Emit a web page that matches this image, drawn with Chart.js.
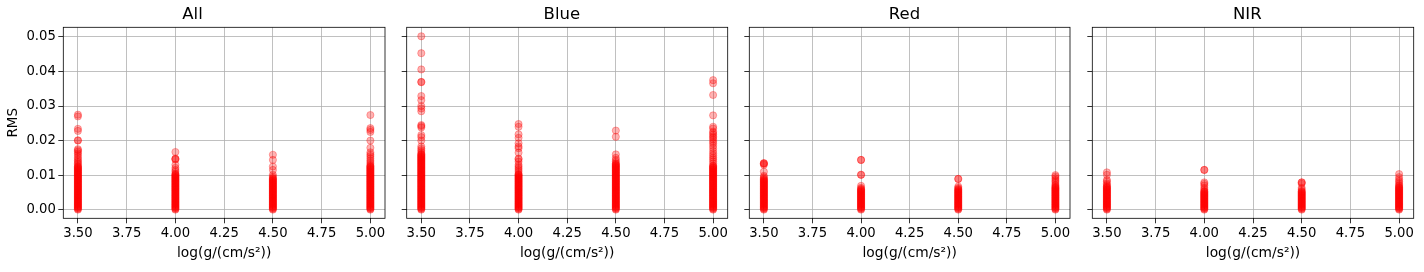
<!DOCTYPE html>
<html>
<head>
<meta charset="utf-8">
<script src="https://cdn.jsdelivr.net/npm/chart.js@4"></script>
<style>
  body { margin: 0; background: #fff; }
  #wrap { position: relative; width: 1424px; height: 272px; }
  canvas { position: absolute; top: 0; }
</style>
</head>
<body>
<div id="wrap">
  <canvas id="c0" width="396" height="272"></canvas>
  <canvas id="c1" width="343" height="272"></canvas>
  <canvas id="c2" width="342" height="272"></canvas>
  <canvas id="c3" width="343" height="272"></canvas>
</div>
<script>
const panelTitles = ['All', 'Blue', 'Red', 'NIR'];
const gravity = [3.5, 4.0, 4.5, 5.0];
const xTicks = [3.5, 3.75, 4.0, 4.25, 4.5, 4.75, 5.0];
const yTicks = [0, 0.01, 0.02, 0.03, 0.04, 0.05];

// RMS values per log(g) (the solid part of each column is packed tight)
const allRms35 = [0,0.0002,0.0004,0.0006,0.0008,0.001,0.0012,0.0014,0.0016,0.0018,0.002,0.0022,0.0024,0.0026,0.0028,0.003,0.0032,0.0034,0.0036,0.0038,0.004,0.0042,0.0044,0.0046,0.0048,0.005,0.0052,0.0054,0.0056,0.0058,0.006,0.0062,0.0064,0.0066,0.0068,0.007,0.0072,0.0074,0.0076,0.0078,0.008,0.0082,0.0084,0.0086,0.0088,0.009,0.0092,0.0094,0.0096,0.0098,0.01,0.0102,0.0104,0.0106,0.0108,0.011,0.0112,0.0114,0.0116,0.0118,0.012,0.0122,0.0124,0.0126,
  0.0130,0.0134,0.0138,0.0142,0.0147,0.0152,0.0158,0.0163,0.0168,0.0172,0.0175,0.0200,0.0201,0.0228,0.0234,0.0270,0.0275];
const allRms40 = [0,0.0002,0.0004,0.0006,0.0008,0.001,0.0012,0.0014,0.0016,0.0018,0.002,0.0022,0.0024,0.0026,0.0028,0.003,0.0032,0.0034,0.0036,0.0038,0.004,0.0042,0.0044,0.0046,0.0048,0.005,0.0052,0.0054,0.0056,0.0058,0.006,0.0062,0.0064,0.0066,0.0068,0.007,0.0072,0.0074,0.0076,0.0078,0.008,0.0082,0.0084,0.0086,0.0088,0.009,0.0092,0.0094,0.0096,0.0098,0.01,0.0102,0.0104,
  0.0110,0.0115,0.0121,0.0130,0.0145,0.0147,0.0148,0.0167];
const allRms45 = [0,0.0002,0.0004,0.0006,0.0008,0.001,0.0012,0.0014,0.0016,0.0018,0.002,0.0022,0.0024,0.0026,0.0028,0.003,0.0032,0.0034,0.0036,0.0038,0.004,0.0042,0.0044,0.0046,0.0048,0.005,0.0052,0.0054,0.0056,0.0058,0.006,0.0062,0.0064,0.0066,0.0068,0.007,0.0072,0.0074,0.0076,0.0078,0.008,0.0082,0.0084,0.0086,0.0088,0.009,0.0092,
  0.0096,0.0101,0.0115,0.0125,0.0144,0.0159];
const allRms50 = [0,0.0002,0.0004,0.0006,0.0008,0.001,0.0012,0.0014,0.0016,0.0018,0.002,0.0022,0.0024,0.0026,0.0028,0.003,0.0032,0.0034,0.0036,0.0038,0.004,0.0042,0.0044,0.0046,0.0048,0.005,0.0052,0.0054,0.0056,0.0058,0.006,0.0062,0.0064,0.0066,0.0068,0.007,0.0072,0.0074,0.0076,0.0078,0.008,0.0082,0.0084,0.0086,0.0088,0.009,0.0092,0.0094,0.0096,0.0098,0.01,0.0102,0.0104,0.0106,0.0108,0.011,0.0112,0.0114,0.0116,0.0118,0.012,0.0122,0.0124,0.0126,0.0128,
  0.0133,0.0138,0.0143,0.0149,0.0155,0.0160,0.0166,0.0179,0.0200,0.0225,0.0231,0.0236,0.0274];

const blueRms35 = [0,0.0002,0.0004,0.0006,0.0008,0.001,0.0012,0.0014,0.0016,0.0018,0.002,0.0022,0.0024,0.0026,0.0028,0.003,0.0032,0.0034,0.0036,0.0038,0.004,0.0042,0.0044,0.0046,0.0048,0.005,0.0052,0.0054,0.0056,0.0058,0.006,0.0062,0.0064,0.0066,0.0068,0.007,0.0072,0.0074,0.0076,0.0078,0.008,0.0082,0.0084,0.0086,0.0088,0.009,0.0092,0.0094,0.0096,0.0098,0.01,0.0102,0.0104,0.0106,0.0108,0.011,0.0112,0.0114,0.0116,0.0118,0.012,0.0122,0.0124,0.0126,0.0128,0.013,0.0132,0.0134,0.0136,0.0138,0.014,0.0142,0.0144,0.0146,0.0148,0.015,0.0152,0.0154,0.0156,0.0158,0.016,0.0162,
  0.0167,0.0172,0.0177,0.0183,0.0200,0.0210,0.0216,0.0238,0.0242,0.0245,0.0285,0.0293,0.0300,0.0317,0.0329,0.0369,0.0370,0.0406,0.0453,0.0502];
const blueRms40 = [0,0.0002,0.0004,0.0006,0.0008,0.001,0.0012,0.0014,0.0016,0.0018,0.002,0.0022,0.0024,0.0026,0.0028,0.003,0.0032,0.0034,0.0036,0.0038,0.004,0.0042,0.0044,0.0046,0.0048,0.005,0.0052,0.0054,0.0056,0.0058,0.006,0.0062,0.0064,0.0066,0.0068,0.007,0.0072,0.0074,0.0076,0.0078,0.008,0.0082,0.0084,0.0086,0.0088,0.009,0.0092,0.0094,0.0096,0.0098,0.01,0.0102,0.0104,
  0.0110,0.0115,0.0120,0.0125,0.0130,0.0139,0.0146,0.0148,0.0165,0.0178,0.0183,0.0192,0.0208,0.0218,0.0240,0.0248];
const blueRms45 = [0,0.0002,0.0004,0.0006,0.0008,0.001,0.0012,0.0014,0.0016,0.0018,0.002,0.0022,0.0024,0.0026,0.0028,0.003,0.0032,0.0034,0.0036,0.0038,0.004,0.0042,0.0044,0.0046,0.0048,0.005,0.0052,0.0054,0.0056,0.0058,0.006,0.0062,0.0064,0.0066,0.0068,0.007,0.0072,0.0074,0.0076,0.0078,0.008,0.0082,0.0084,0.0086,0.0088,0.009,0.0092,0.0094,0.0096,0.0098,0.01,0.0102,0.0104,0.0106,0.0108,0.011,0.0112,0.0114,0.0116,0.0118,0.012,0.0122,0.0124,0.0126,0.0128,0.013,0.0132,0.0134,
  0.0139,0.0144,0.0150,0.0160,0.0211,0.0229];
const blueRms50 = [0,0.0002,0.0004,0.0006,0.0008,0.001,0.0012,0.0014,0.0016,0.0018,0.002,0.0022,0.0024,0.0026,0.0028,0.003,0.0032,0.0034,0.0036,0.0038,0.004,0.0042,0.0044,0.0046,0.0048,0.005,0.0052,0.0054,0.0056,0.0058,0.006,0.0062,0.0064,0.0066,0.0068,0.007,0.0072,0.0074,0.0076,0.0078,0.008,0.0082,0.0084,0.0086,0.0088,0.009,0.0092,0.0094,0.0096,0.0098,0.01,0.0102,0.0104,0.0106,0.0108,0.011,0.0112,0.0114,0.0116,0.0118,0.012,0.0122,0.0124,0.0126,0.0128,
  0.0134,0.0140,0.0146,0.0151,0.0157,0.0163,0.0170,0.0178,0.0185,0.0192,0.0197,0.0203,0.0208,0.0212,0.0217,0.0222,0.0226,0.0235,0.0240,0.0273,0.0332,0.0366,0.0375];

const redRms35 = [0,0.0002,0.0004,0.0006,0.0008,0.001,0.0012,0.0014,0.0016,0.0018,0.002,0.0022,0.0024,0.0026,0.0028,0.003,0.0032,0.0034,0.0036,0.0038,0.004,0.0042,0.0044,0.0046,0.0048,0.005,0.0052,0.0054,0.0056,0.0058,0.006,0.0062,0.0064,0.0066,0.0068,0.007,0.0072,0.0074,0.0076,0.0078,0.008,0.0082,0.0084,0.0086,0.0088,0.009,
  0.0094,0.0098,0.0110,0.0130,0.0133,0.0134,0.0135];
const redRms40 = [0,0.0002,0.0004,0.0006,0.0008,0.001,0.0012,0.0014,0.0016,0.0018,0.002,0.0022,0.0024,0.0026,0.0028,0.003,0.0032,0.0034,0.0036,0.0038,0.004,0.0042,0.0044,0.0046,0.0048,0.005,0.0052,0.0054,0.0056,0.0058,0.006,
  0.0063,0.0069,0.0101,0.0101,0.0144,0.0144];
const redRms45 = [0,0.0002,0.0004,0.0006,0.0008,0.001,0.0012,0.0014,0.0016,0.0018,0.002,0.0022,0.0024,0.0026,0.0028,0.003,0.0032,0.0034,0.0036,0.0038,0.004,0.0042,0.0044,0.0046,0.0048,0.005,0.0052,0.0054,0.0056,0.0058,0.006,
  0.0063,0.0067,0.0089,0.0089];
const redRms50 = [0,0.0002,0.0004,0.0006,0.0008,0.001,0.0012,0.0014,0.0016,0.0018,0.002,0.0022,0.0024,0.0026,0.0028,0.003,0.0032,0.0034,0.0036,0.0038,0.004,0.0042,0.0044,0.0046,0.0048,0.005,0.0052,0.0054,0.0056,0.0058,0.006,0.0062,0.0064,0.0066,
  0.0069,0.0072,0.0077,0.0082,0.0086,0.0091,0.0096,0.0100];

const nirRms35 = [0,0.0002,0.0004,0.0006,0.0008,0.001,0.0012,0.0014,0.0016,0.0018,0.002,0.0022,0.0024,0.0026,0.0028,0.003,0.0032,0.0034,0.0036,0.0038,0.004,0.0042,0.0044,0.0046,0.0048,0.005,0.0052,0.0054,0.0056,0.0058,0.006,0.0062,0.0064,0.0066,0.0068,
  0.0072,0.0076,0.0082,0.0086,0.0101,0.0108];
const nirRms40 = [0,0.0002,0.0004,0.0006,0.0008,0.001,0.0012,0.0014,0.0016,0.0018,0.002,0.0022,0.0024,0.0026,0.0028,0.003,0.0032,0.0034,0.0036,0.0038,0.004,0.0042,0.0044,0.0046,0.0048,0.005,0.0052,0.0054,
  0.0058,0.0063,0.0070,0.0075,0.0079,0.0115,0.0115];
const nirRms45 = [0,0.0002,0.0004,0.0006,0.0008,0.001,0.0012,0.0014,0.0016,0.0018,0.002,0.0022,0.0024,0.0026,0.0028,0.003,0.0032,0.0034,0.0036,0.0038,0.004,0.0042,0.0044,0.0046,0.0048,0.005,0.0052,0.0054,
  0.0058,0.0063,0.0075,0.0079,0.0079];
const nirRms50 = [0,0.0002,0.0004,0.0006,0.0008,0.001,0.0012,0.0014,0.0016,0.0018,0.002,0.0022,0.0024,0.0026,0.0028,0.003,0.0032,0.0034,0.0036,0.0038,0.004,0.0042,0.0044,0.0046,0.0048,0.005,0.0052,0.0054,0.0056,0.0058,0.006,0.0062,0.0064,0.0066,
  0.0069,0.0072,0.0077,0.0082,0.0087,0.0094,0.0103];

const panelRms = [
  [allRms35, allRms40, allRms45, allRms50],
  [blueRms35, blueRms40, blueRms45, blueRms50],
  [redRms35, redRms40, redRms45, redRms50],
  [nirRms35, nirRms40, nirRms45, nirRms50]
];

// canvas placement so the four plot areas line up like the subplots
const boxes = [
  { left: 0,    axisW: 63.3, padR: 11 },
  { left: 396,  axisW: 10.7, padR: 11.3 },
  { left: 739,  axisW: 10.3, padR: 11 },
  { left: 1081, axisW: 11.3, padR: 10.3 }
];

Chart.defaults.font.family = 'DejaVu Sans';
Chart.defaults.color = '#000';

const frame = {
  id: 'frame',
  afterDraw(chart) {
    const { ctx, chartArea: a } = chart;
    ctx.save();
    ctx.strokeStyle = '#000';
    ctx.lineWidth = 0.8;
    ctx.strokeRect(a.left, a.top, a.right - a.left, a.bottom - a.top);
    ctx.restore();
  }
};

const grid = { color: '#b0b0b0', lineWidth: 0.8, tickLength: 5, tickColor: '#000', tickWidth: 0.8 };

panelTitles.forEach(function (title, i) {
  const canvas = document.getElementById('c' + i);
  canvas.style.left = boxes[i].left + 'px';

  const points = [];
  gravity.forEach(function (g, k) {
    panelRms[i][k].forEach(function (v) { points.push({ x: g, y: v }); });
  });

  new Chart(canvas.getContext('2d'), {
    type: 'scatter',
    data: {
      datasets: [{
        data: points,
        backgroundColor: 'rgba(255,0,0,0.3)',
        borderColor: 'rgba(255,0,0,0.3)',
        borderWidth: 1,
        pointRadius: 3.6
      }]
    },
    options: {
      responsive: false,
      animation: false,
      events: [],
      layout: { padding: { left: 0, right: boxes[i].padR, top: 0, bottom: 0 } },
      plugins: {
        legend: { display: false },
        tooltip: { enabled: false },
        title: {
          display: true, text: title, color: '#000',
          font: { size: 16.5, weight: 'normal' },
          padding: { top: 5, bottom: 2.5 }
        }
      },
      scales: {
        x: {
          type: 'linear', min: 3.425, max: 5.075,
          afterBuildTicks: function (a) { a.ticks = xTicks.map(function (v) { return { value: v }; }); },
          afterFit: function (a) { a.height = 53.7; },
          ticks: { callback: function (v) { return v.toFixed(2); }, font: { size: 13.2 }, padding: 2.5, maxRotation: 0, autoSkip: false },
          grid: grid,
          border: { display: false },
          title: { display: true, text: 'log(g/(cm/s²))', font: { size: 13.8 }, padding: { top: 0, bottom: 10.2 } }
        },
        y: {
          type: 'linear', min: -0.0025, max: 0.0528,
          afterBuildTicks: function (a) { a.ticks = yTicks.map(function (v) { return { value: v }; }); },
          afterFit: function (a) { a.width = boxes[i].axisW; },
          ticks: { display: i === 0, callback: function (v) { return v.toFixed(2); }, font: { size: 13.2 }, padding: 2.5 },
          grid: grid,
          border: { display: false },
          title: { display: i === 0, text: 'RMS', font: { size: 13.5 }, padding: { top: 5.5 } }
        }
      }
    },
    plugins: [frame]
  });
});
</script>
</body>
</html>
